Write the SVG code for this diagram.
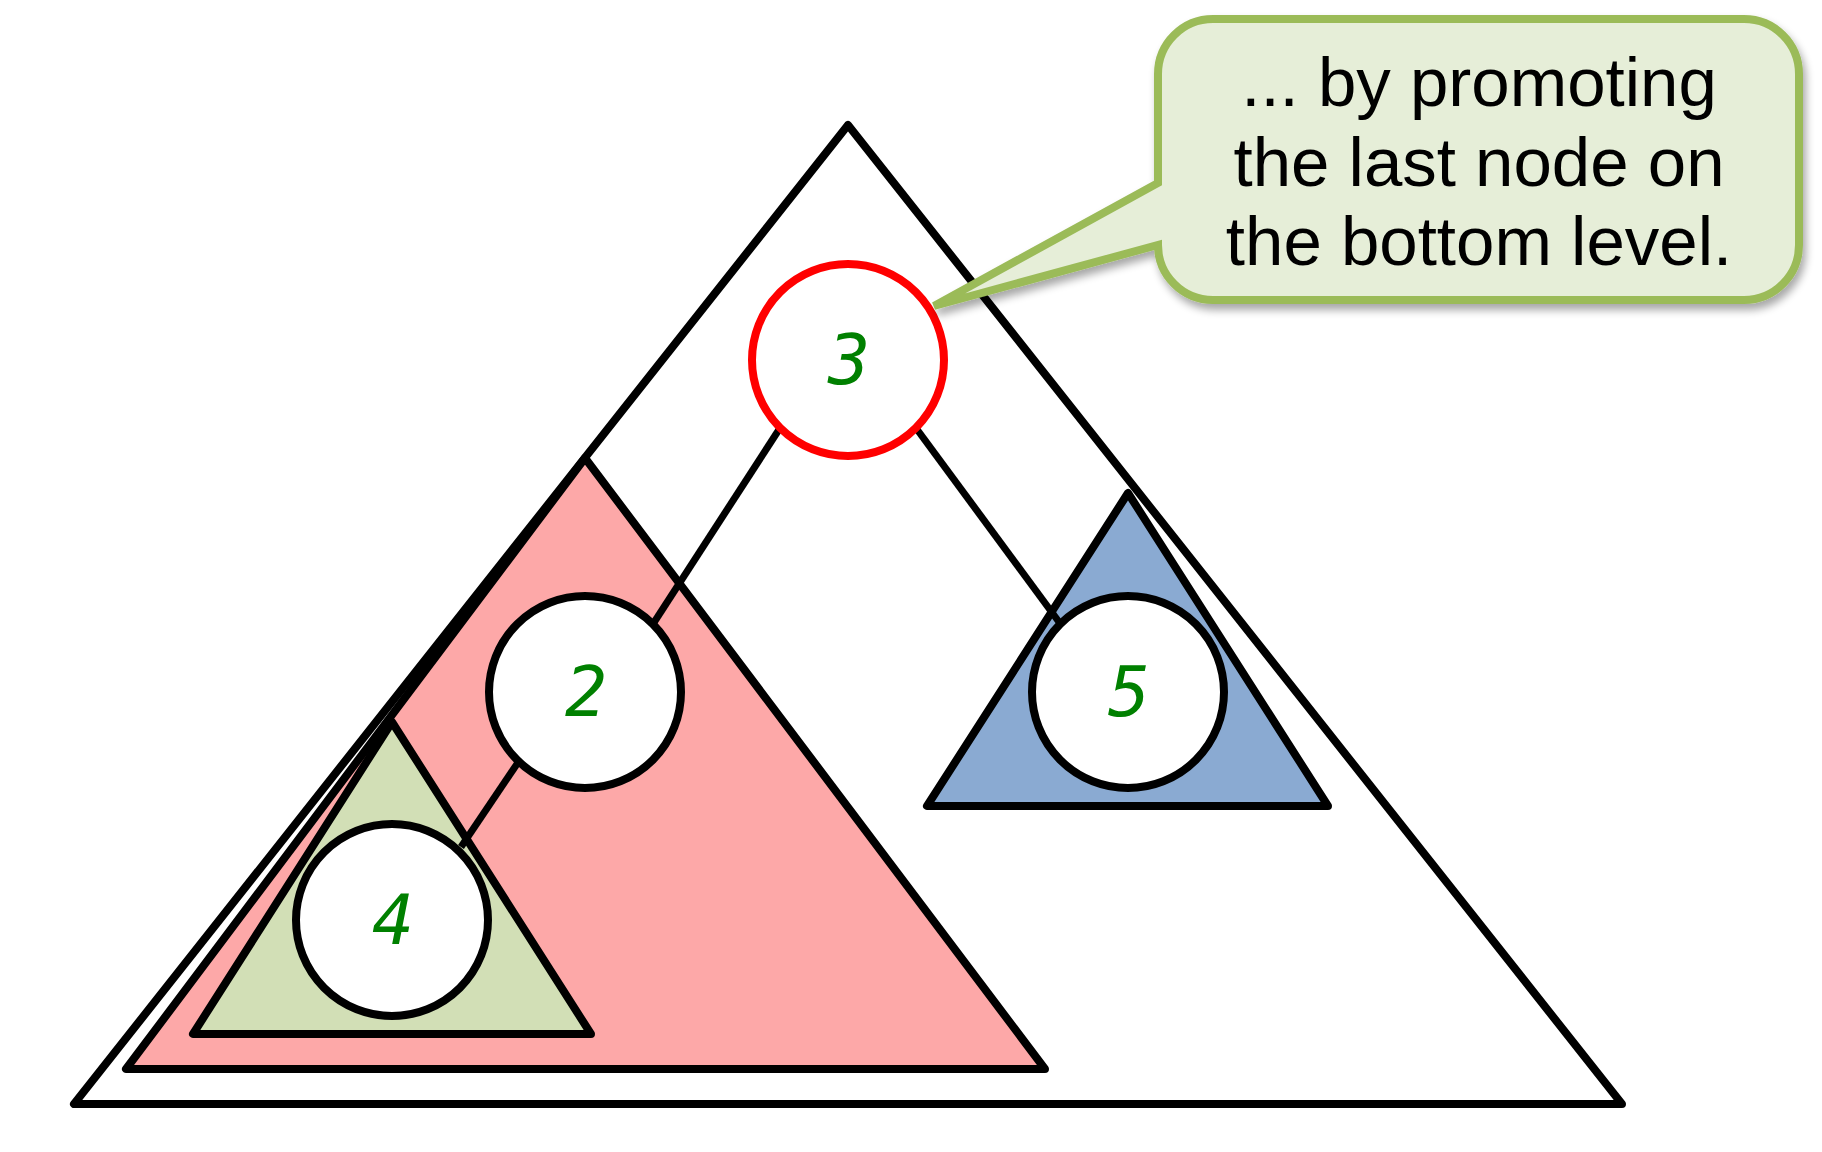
<svg xmlns="http://www.w3.org/2000/svg" width="1822" height="1152" viewBox="0 0 1822 1152">
<style>
.tri{stroke:#000;stroke-width:8;stroke-linejoin:round}
.edge{stroke:#000;stroke-width:7;fill:none}
.node{fill:#fff;stroke:#000;stroke-width:8}
.num{font-family:"DejaVu Sans Mono",monospace;font-style:italic;font-size:70px;fill:#008000;text-anchor:middle}
.call{font-family:"Liberation Sans",Arial,sans-serif;font-size:69px;fill:#000;text-anchor:middle}
</style>
<defs>
<filter id="sh" x="-10%" y="-10%" width="130%" height="140%">
<feGaussianBlur in="SourceAlpha" stdDeviation="4"/>
<feOffset dx="3" dy="6" result="b"/>
<feComponentTransfer><feFuncA type="linear" slope="0.35"/></feComponentTransfer>
<feMerge><feMergeNode/><feMergeNode in="SourceGraphic"/></feMerge>
</filter>
</defs>
<rect width="1822" height="1152" fill="#fff"/>
<g id="tree-whole"><polygon class="tri" fill="#fff" points="848,125 74,1104 1622,1104"/></g>
<g id="subtree-left"><polygon class="tri" fill="#FDA8A8" points="585,458 126,1069 1045,1069"/></g>
<g id="subtree-leftleft"><polygon class="tri" fill="#D2DFB6" points="392,722 193,1034 591,1034"/></g>
<g id="subtree-right"><polygon class="tri" fill="#8AAAD2" points="1128,493 927,806 1328,806"/></g>
<g id="connectors">
<line class="edge" x1="780" y1="428" x2="653" y2="624"/>
<line class="edge" x1="916" y1="428" x2="1059" y2="622"/>
<line class="edge" x1="519" y1="761" x2="461" y2="847"/>
</g>
<g id="node-3"><circle cx="848" cy="360" r="96" fill="#fff" stroke="#FF0000" stroke-width="8"/><text class="num" x="849" y="384">3</text></g>
<g id="node-2"><circle class="node" cx="585" cy="692" r="96"/><text class="num" x="586" y="716">2</text></g>
<g id="node-5"><circle class="node" cx="1128" cy="692" r="96"/><text class="num" x="1129" y="716">5</text></g>
<g id="node-4"><circle class="node" cx="392" cy="920" r="96"/><text class="num" x="393" y="944">4</text></g>
<g id="callout">
<path filter="url(#sh)" d="M 1213,19 H 1744 A 55 55 0 0 1 1799,74 V 245 A 55 55 0 0 1 1744,300 H 1213 A 55 55 0 0 1 1158,245 L 934,306 L 1158,183 V 74 A 55 55 0 0 1 1213,19 Z" fill="#E6EED8" stroke="#9BBB59" stroke-width="8" stroke-linejoin="miter"/>
<text class="call" x="1479" y="106">... by promoting</text>
<text class="call" x="1479" y="186">the last node on</text>
<text class="call" x="1479" y="265">the bottom level.</text>
</g>
</svg>
